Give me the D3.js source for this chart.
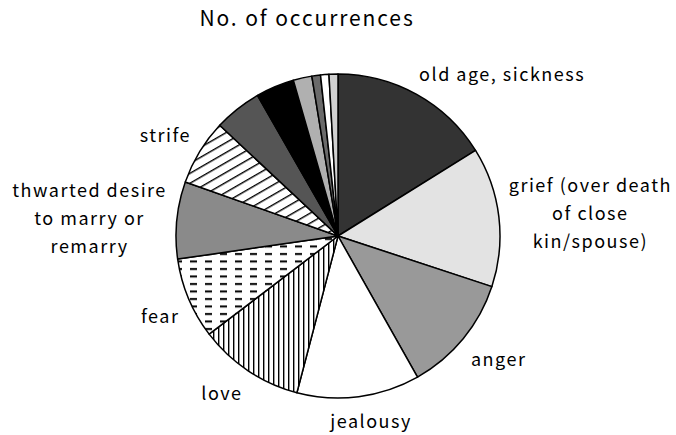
<!DOCTYPE html>
<html><head><meta charset="utf-8">
<script src="https://cdn.jsdelivr.net/npm/d3@7/dist/d3.min.js"></script>
<style>html,body{margin:0;padding:0;background:#fff;}</style>
</head><body>
<svg id="chart" width="676" height="435"></svg>
<script>
const title = "No. of occurrences";
const categories = ["old age, sickness", "grief (over death|of close|kin/spouse)", "anger", "jealousy", "love", "fear",
  "thwarted desire|to marry or|remarry", "strife", "", "", "", "", "", ""];
const values = [58.1, 50.1, 42.4, 44.1, 38, 29.1, 27.7, 23.6, 17.1, 13.8, 6.7, 3.1, 3, 3.2];
const fills = ["#333333", "#e3e3e3", "#999999", "#ffffff", "url(#pVert)", "url(#pDash)",
  "#8a8a8a", "url(#pDiag)", "#555555", "#000000", "#b0b0b0", "#6a6a6a", "#ffffff", "#d0d0d0"];

const W = 676, H = 435, cx = 338, cy = 236, R = 162;
const FONT = "'Noto Sans CJK JP', 'DejaVu Sans', sans-serif";
const svg = d3.select("#chart");
const defs = svg.append("defs");

// vertical lines
const pv = defs.append("pattern").attr("id", "pVert").attr("patternUnits", "userSpaceOnUse")
  .attr("width", 5).attr("height", 10);
pv.append("rect").attr("width", 5).attr("height", 10).attr("fill", "#fff");
pv.append("rect").attr("x", 0).attr("width", 1.4).attr("height", 10).attr("fill", "#000");
// dashes
const pd = defs.append("pattern").attr("id", "pDash").attr("patternUnits", "userSpaceOnUse")
  .attr("width", 15).attr("height", 7.5);
pd.append("rect").attr("width", 15).attr("height", 7.5).attr("fill", "#fff");
pd.append("rect").attr("x", 2).attr("y", 2).attr("width", 7).attr("height", 2).attr("fill", "#000");
// diagonal
const pg = defs.append("pattern").attr("id", "pDiag").attr("patternUnits", "userSpaceOnUse")
  .attr("width", 10).attr("height", 8.6).attr("patternTransform", "rotate(-30)");
pg.append("rect").attr("width", 10).attr("height", 8.6).attr("fill", "#fff");
pg.append("rect").attr("y", 0).attr("width", 10).attr("height", 1.4).attr("fill", "#000");

svg.append("text").attr("x", 307).attr("y", 26).attr("text-anchor", "middle")
  .attr("font-family", FONT).attr("font-size", 21).attr("letter-spacing", 1.9).attr("fill", "#000").text(title);

const pie = d3.pie().sort(null).value(d => d)(values);
const arc = d3.arc().innerRadius(0).outerRadius(R);
const g = svg.append("g").attr("transform", `translate(${cx},${cy})`);
g.selectAll("path").data(pie).join("path")
  .attr("d", arc).attr("fill", (d, i) => fills[i])
  .attr("stroke", "#000").attr("stroke-width", 1.5).attr("stroke-linejoin", "round");

// labels (outside end, box edge touching the mid-angle ray)
const gap = 10;
pie.forEach((d, i) => {
  if (!categories[i]) return;
  const a = (d.startAngle + d.endAngle) / 2;
  const lines = categories[i].split("|");
  const t = g.append("text").attr("font-family", FONT).attr("font-size", 18)
    .attr("letter-spacing", 1.5).attr("fill", "#000").attr("text-anchor", "middle");
  lines.forEach((ln, j) => t.append("tspan").attr("x", 0).attr("y", j * 28).text(ln));
  const bb = t.node().getBBox();
  const px = (R + gap) * Math.sin(a), py = -(R + gap) * Math.cos(a);
  const sx = Math.max(-1, Math.min(1, Math.sin(a) * 2));
  const c = -Math.cos(a);
  const sy = Math.sign(c) * Math.min(1, Math.pow(Math.abs(c) * 2.5, 2));
  const ccx = px + sx * bb.width / 2, ccy = py + sy * bb.height / 2;
  const dx = ccx - (bb.x + bb.width / 2), dy = ccy - (bb.y + bb.height / 2);
  t.attr("transform", `translate(${dx},${dy})`);
});
</script>
</body></html>
